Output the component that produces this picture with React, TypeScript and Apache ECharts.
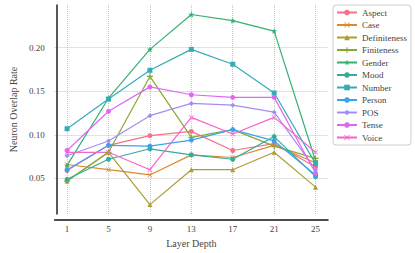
import React, { useEffect, useRef } from "react";
import * as echarts from "echarts";

const layers = [1, 5, 9, 13, 17, 21, 25];
const xTicks = [1, 5, 9, 13, 17, 21, 25];
const yTicks = [0.05, 0.1, 0.15, 0.2];

const seriesNames = ["Aspect", "Case", "Definiteness", "Finiteness", "Gender", "Mood", "Number", "Person", "POS", "Tense", "Voice"];
const aspect = [0.059, 0.088, 0.099, 0.104, 0.082, 0.09, 0.063];
const caseVals = [0.066, 0.06, 0.054, 0.077, 0.074, 0.088, 0.068];
const definiteness = [0.047, 0.08, 0.02, 0.06, 0.06, 0.08, 0.04];
const finiteness = [0.047, 0.08, 0.167, 0.097, 0.106, 0.087, 0.073];
const gender = [0.065, 0.142, 0.198, 0.238, 0.231, 0.219, 0.07];
const mood = [0.049, 0.072, 0.084, 0.077, 0.072, 0.098, 0.052];
const numberVals = [0.107, 0.141, 0.174, 0.198, 0.181, 0.148, 0.067];
const person = [0.06, 0.088, 0.087, 0.094, 0.106, 0.093, 0.054];
const pos = [0.076, 0.093, 0.122, 0.136, 0.134, 0.126, 0.06];
const tense = [0.082, 0.127, 0.155, 0.146, 0.143, 0.143, 0.056];
const voice = [0.08, 0.08, 0.06, 0.12, 0.101, 0.12, 0.08];

const allValues = [aspect, caseVals, definiteness, finiteness, gender, mood, numberVals, person, pos, tense, voice];
const colors = ["#f77189", "#dc8932", "#ae9d31", "#88a931", "#33b16f", "#35ac9a", "#37aab8", "#3ba3ec", "#a48cf4", "#e067f4", "#f565cc"];

const X_PATH = "path://M0,1 L1,0 L5,4 L9,0 L10,1 L6,5 L10,9 L9,10 L5,6 L1,10 L0,9 L4,5 Z";
const PLUS_PATH = "path://M4,0H6V4H10V6H6V10H4V6H0V4H4Z";
const STAR_PATH = "path://M5,0 L6.2,3.4 L9.8,3.5 L7,5.7 L8,9.2 L5,7.1 L2,9.2 L3,5.7 L0.2,3.5 L3.8,3.4Z";
const symbols = ["circle", X_PATH, "triangle", PLUS_PATH, STAR_PATH, "circle", "rect", "circle", "diamond", "circle", X_PATH];
const symbolSizes = [5, 5, 5, 6, 6, 5, 5, 5, 5, 5, 5];

const FONT = "Liberation Serif";

export default function App() {
  const ref = useRef<HTMLDivElement>(null);
  useEffect(() => {
    if (!ref.current) return;
    const chart = echarts.init(ref.current, undefined, { renderer: "svg" });
    const series = seriesNames.map((name, i) => ({
      name,
      type: "line",
      data: layers.map((l, j) => [l, allValues[i][j]]),
      symbol: symbols[i],
      symbolSize: symbolSizes[i],
      showAllSymbol: true,
      lineStyle: { width: 1.2, color: colors[i] },
      itemStyle: { color: colors[i] },
      emphasis: { disabled: true },
    }));
    chart.setOption({
      animation: false,
      backgroundColor: "#ffffff",
      textStyle: { fontFamily: FONT },
      grid: { left: 41, right: 87, top: 5, bottom: 34 },
      xAxis: {
        type: "value",
        min: -0.2,
        max: 26.2,
        offset: 6,
        name: "Layer Depth",
        nameLocation: "middle",
        nameGap: 11,
        nameTextStyle: { fontFamily: FONT, fontSize: 10, color: "#444" },
        axisLine: { show: true, lineStyle: { color: "#111", width: 1.5 } },
        axisTick: { show: false, customValues: xTicks },
        axisLabel: { customValues: xTicks, fontFamily: FONT, fontSize: 9, color: "#444", margin: 4 },
        splitLine: { show: true, lineStyle: { color: "#b5b5b5", width: 0.8, type: [1, 1] } },
      },
      yAxis: {
        type: "value",
        min: 0.0091,
        max: 0.2489,
        offset: 6,
        name: "Neuron Overlap Rate",
        nameLocation: "middle",
        nameGap: 22,
        nameTextStyle: { fontFamily: FONT, fontSize: 10, color: "#444" },
        axisLine: { show: true, lineStyle: { color: "#222", width: 1.5 } },
        axisTick: { show: false, customValues: yTicks },
        axisLabel: {
          customValues: yTicks,
          fontFamily: FONT,
          fontSize: 9,
          color: "#444",
          margin: 4,
          formatter: (v: number) => v.toFixed(2),
        },
        splitLine: { show: true, lineStyle: { color: "#b5b5b5", width: 0.8, type: [1, 1] } },
      },
      legend: {
        orient: "vertical",
        left: 333,
        top: 5,
        padding: [3, 4, 3, 3],
        itemWidth: 20,
        itemHeight: 7,
        itemGap: 3.5,
        borderColor: "#cccccc",
        borderWidth: 1,
        borderRadius: 3,
        backgroundColor: "#ffffff",
        textStyle: { fontFamily: FONT, fontSize: 9, color: "#444", lineHeight: 9 },
        data: seriesNames,
      },
      series,
    });
    return () => chart.dispose();
  }, []);
  return <div ref={ref} style={{ width: 415, height: 253, position: "absolute", left: 0, top: 0 }} />;
}
